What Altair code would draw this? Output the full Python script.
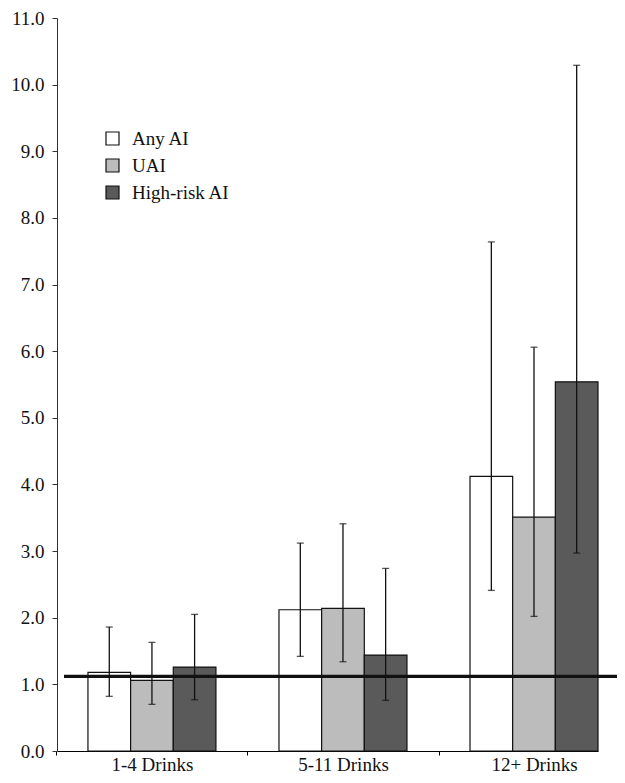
import altair as alt
import pandas as pd

groups = ["1-4 Drinks", "5-11 Drinks", "12+ Drinks"]
series = ["Any AI", "UAI", "High-risk AI"]
colors = ["#ffffff", "#bcbcbc", "#5a5a5a"]

any_ai = [1.18, 2.12, 4.12]
any_ai_lo = [0.82, 1.42, 2.41]
any_ai_hi = [1.86, 3.12, 7.64]

uai = [1.06, 2.14, 3.51]
uai_lo = [0.70, 1.34, 2.02]
uai_hi = [1.63, 3.41, 6.06]

high_risk = [1.26, 1.44, 5.54]
high_risk_lo = [0.77, 0.76, 2.97]
high_risk_hi = [2.05, 2.74, 10.29]

reference_value = [1.12]
y_ticks = list(range(0, 12))

rows = []
for s, vals, lo, hi in [
    ("Any AI", any_ai, any_ai_lo, any_ai_hi),
    ("UAI", uai, uai_lo, uai_hi),
    ("High-risk AI", high_risk, high_risk_lo, high_risk_hi),
]:
    for g, v, l, h in zip(groups, vals, lo, hi):
        rows.append({"group": g, "series": s, "value": v, "lo": l, "hi": h})
df = pd.DataFrame(rows)

FONT = "Liberation Serif"

x_enc = alt.X(
    "group:N",
    sort=groups,
    scale=alt.Scale(paddingInner=0.33, paddingOuter=0.081, align=1),
    axis=alt.Axis(
        title=None, labelAngle=0, tickSize=4, tickOffset=-95.5, labelOffset=95.5,
        labelPadding=0, domainColor="#000000", tickColor="#000000",
        labelFont=FONT, labelFontSize=19, labelColor="#111111",
    ),
)
xoff = alt.XOffset("series:N", sort=series, scale=alt.Scale(domain=series, paddingInner=0, paddingOuter=0))
y_scale = alt.Scale(domain=[0, 11], nice=False)

base = alt.Chart(df)

bars = base.mark_bar(stroke="#111111", strokeWidth=1.2).encode(
    x=x_enc,
    xOffset=xoff,
    y=alt.Y(
        "value:Q", scale=y_scale,
        axis=alt.Axis(
            title=None, values=y_ticks, format=".1f", tickSize=5, labelPadding=8,
            grid=False, domainColor="#333333", tickColor="#333333",
            labelFont=FONT, labelFontSize=19, labelColor="#111111",
        ),
    ),
    fill=alt.Fill(
        "series:N",
        scale=alt.Scale(domain=series, range=colors),
        legend=alt.Legend(
            title=None, orient="none", legendX=46, legendY=111, symbolType="square",
            symbolSize=169, symbolStrokeColor="#111111", symbolStrokeWidth=1.2,
            labelFont=FONT, labelFontSize=19, labelColor="#111111", labelOffset=10,
            rowPadding=7, padding=0, symbolOpacity=1,
        ),
    ),
)

ref = alt.Chart(pd.DataFrame({"ref": reference_value})).mark_rule(
    color="#111111", strokeWidth=3.3
).encode(y=alt.Y("ref:Q", scale=y_scale), x=alt.value(7), x2=alt.value(560))

err = base.mark_rule(color="#111111", strokeWidth=1.3).encode(
    x=x_enc, xOffset=xoff, y=alt.Y("lo:Q", scale=y_scale), y2="hi:Q"
)
cap_lo = base.mark_tick(color="#111111", thickness=1.3, size=7).encode(
    x=x_enc, xOffset=xoff, y=alt.Y("lo:Q", scale=y_scale)
)
cap_hi = base.mark_tick(color="#111111", thickness=1.3, size=7).encode(
    x=x_enc, xOffset=xoff, y=alt.Y("hi:Q", scale=y_scale)
)

chart = alt.layer(bars, ref, err, cap_lo, cap_hi).properties(
    width=541, height=733,
    autosize=alt.AutoSizeParams(type="none"),
    padding={"left": 49, "top": 10, "right": 19, "bottom": 24},
    background="#ffffff",
).configure_view(stroke=None)

chart.save("out.html", embed_options={"renderer": "svg", "actions": False})
